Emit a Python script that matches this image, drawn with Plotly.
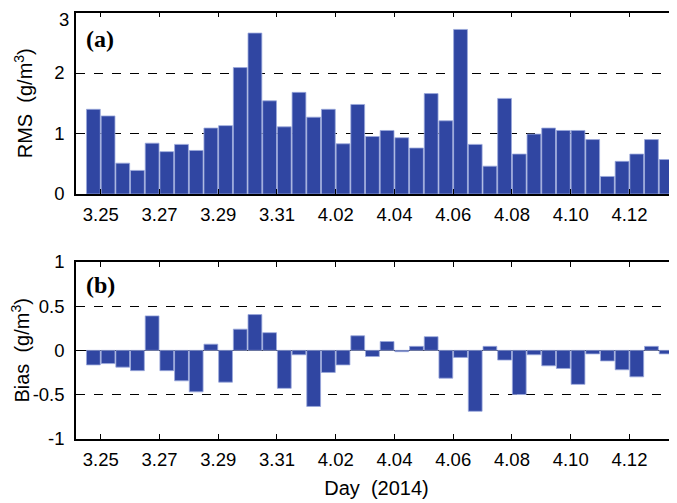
import pandas as pd
import plotly.graph_objects as go

# Half-day time stamps (bar centres), 2014-03-24 18:00 ... 2014-04-13 06:00
times = pd.date_range("2014-03-24 18:00", periods=40, freq="12h")

rms = [1.40, 1.29, 0.51, 0.39, 0.84, 0.70, 0.82, 0.72, 1.09, 1.13,
       2.09, 2.66, 1.54, 1.11, 1.68, 1.27, 1.40, 0.83, 1.48, 0.95,
       1.05, 0.93, 0.76, 1.66, 1.21, 2.72, 0.82, 0.46, 1.58, 0.66,
       0.99, 1.09, 1.05, 1.05, 0.90, 0.29, 0.54, 0.66, 0.90, 0.57]

bias = [-0.165, -0.15, -0.19, -0.23, 0.39, -0.23, -0.345, -0.47, 0.07, -0.36,
        0.24, 0.405, 0.20, -0.43, -0.05, -0.635, -0.25, -0.165, 0.165, -0.07,
        0.10, -0.015, 0.045, 0.155, -0.315, -0.08, -0.69, 0.045, -0.11, -0.50,
        -0.05, -0.175, -0.205, -0.385, -0.04, -0.12, -0.22, -0.30, 0.045, -0.04]

tick_dates = ["2014-03-25", "2014-03-27", "2014-03-29", "2014-03-31", "2014-04-02",
              "2014-04-04", "2014-04-06", "2014-04-08", "2014-04-10", "2014-04-12"]
tick_labels = ["3.25", "3.27", "3.29", "3.31", "4.02",
               "4.04", "4.06", "4.08", "4.10", "4.12"]

rms_ticks = [0, 1, 2, 3]
rms_tick_labels = ["0", "1", "2", "3"]
bias_ticks = [-1, -0.5, 0, 0.5, 1]
bias_tick_labels = ["-1", "-0.5", "0", "0.5", "1"]

BAR = "#3046a2"
EDGE = "#9aa8dc"
FONT = "Liberation Sans, Arial, sans-serif"
OFF = 8                    # page body margin of the HTML page
W, H = 677 - OFF, 503 - OFF
L = 76 - OFF

fig = go.Figure()
fig.add_trace(go.Bar(x=times, y=rms, marker=dict(color=BAR, line=dict(color=EDGE, width=0.8)),
                     xaxis="x", yaxis="y", showlegend=False))
fig.add_trace(go.Bar(x=times, y=bias, marker=dict(color=BAR, line=dict(color=EDGE, width=0.8)),
                     xaxis="x2", yaxis="y2", showlegend=False))

xr = ["2014-03-24 03:48", "2014-04-13 14:53"]
common_x = dict(type="date", range=xr, tickmode="array", tickvals=tick_dates, ticktext=tick_labels,
                ticks="inside", ticklen=5, tickcolor="black", tickwidth=1,
                showline=True, linecolor="black", linewidth=1.5, mirror="ticks",
                showgrid=False, zeroline=False, automargin=False, ticklabeloverflow="allow",
                tickfont=dict(family=FONT, size=18.5, color="black"), ticklabelstandoff=3)

def yd(top_px, bot_px):
    return [(H - (bot_px - OFF)) / H, (H - (top_px - OFF)) / H]

# the topmost RMS label sits at the very edge of the page; draw it as a note so it stays whole
rms_axis_text = rms_tick_labels[:-1] + [""]

fig.update_layout(
    width=W, height=H,
    margin=dict(l=L, r=0, t=0, b=0),
    paper_bgcolor="white", plot_bgcolor="white",
    bargap=0.06,
    font=dict(family=FONT, size=18, color="black"),
    xaxis=dict(common_x, domain=[0, 1], anchor="y"),
    xaxis2=dict(common_x, domain=[0, 1], anchor="y2",
                title=dict(text="Day  (2014)", font=dict(family=FONT, size=20), standoff=12)),
    yaxis=dict(domain=yd(12.5, 194), range=[0, 3], tickvals=rms_ticks, ticktext=rms_axis_text,
               showline=True, linecolor="black", linewidth=1.5, ticks="", automargin=False,
               ticklabeloverflow="allow",
               showgrid=True, gridcolor="black", griddash="dash", gridwidth=1, zeroline=False,
               tickfont=dict(family=FONT, size=18.5, color="black"), ticklabelstandoff=6,
               title=dict(text="RMS  (g/m<sup>3</sup>)", font=dict(family=FONT, size=20), standoff=16)),
    yaxis2=dict(domain=yd(262, 438.7), range=[-1, 1], tickvals=bias_ticks,
                ticktext=bias_tick_labels,
                showline=True, linecolor="black", linewidth=1.5, ticks="", automargin=False,
                ticklabeloverflow="allow",
                showgrid=True, gridcolor="black", griddash="dash", gridwidth=1,
                zeroline=True, zerolinecolor="black", zerolinewidth=1.2,
                tickfont=dict(family=FONT, size=18.5, color="black"), ticklabelstandoff=6,
                title=dict(text="Bias  (g/m<sup>3</sup>)", font=dict(family=FONT, size=20), standoff=12)),
)

fig.add_annotation(text=rms_tick_labels[-1], xref="paper", yref="paper", x=0, y=1,
                   xanchor="right", yanchor="top", xshift=-6, showarrow=False, borderpad=0,
                   font=dict(family=FONT, size=18.5, color="black"))

ax = (84 - 76) / (W - L)
fig.add_annotation(text="<b>(a)</b>", xref="paper", yref="paper", x=ax, y=(H - (39 - OFF)) / H,
                   xanchor="left", yanchor="middle", showarrow=False,
                   font=dict(family="Liberation Serif, Times New Roman, serif", size=24, color="black"))
fig.add_annotation(text="<b>(b)</b>", xref="paper", yref="paper", x=ax, y=(H - (285 - OFF)) / H,
                   xanchor="left", yanchor="middle", showarrow=False,
                   font=dict(family="Liberation Serif, Times New Roman, serif", size=24, color="black"))

fig.write_html("out.html")
